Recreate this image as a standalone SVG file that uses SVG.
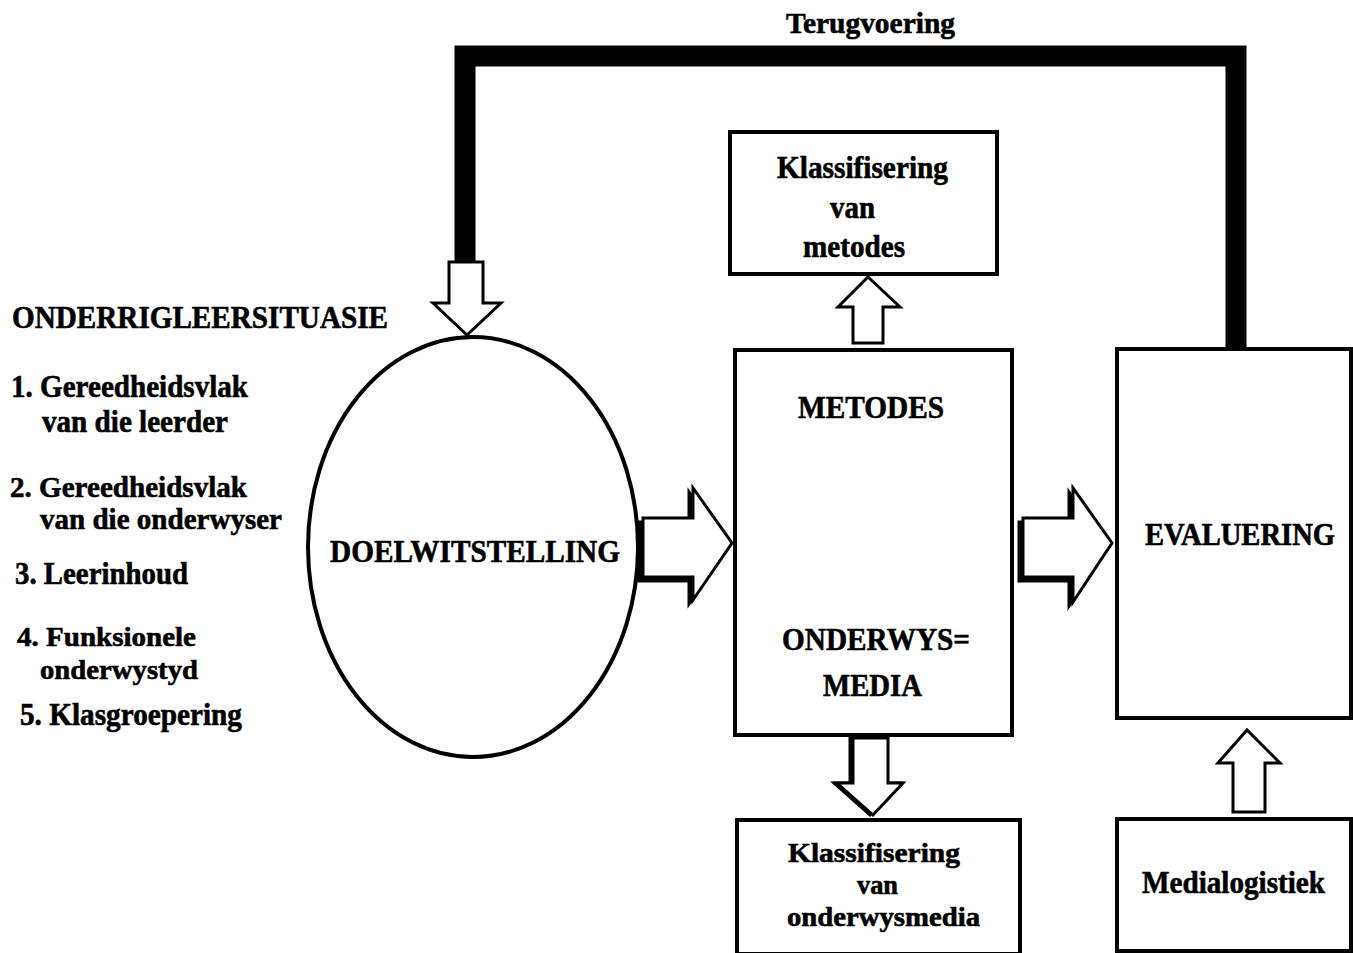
<svg xmlns="http://www.w3.org/2000/svg" width="1353" height="953" viewBox="0 0 1353 953">
<style>
  text { font-family: "Liberation Serif", "Times New Roman", serif; font-weight: bold; fill: #000; stroke: #000; stroke-width: 0.6; }
  .box { fill: #fff; stroke: #000; stroke-width: 4; }
  .arrow { fill: #fff; stroke: #000; stroke-width: 3; stroke-linejoin: miter; }
  .shadow { fill: #000; stroke: #000; stroke-width: 3; }
  .feedback { fill: none; stroke: #000; stroke-width: 21; stroke-linejoin: miter; }
</style>
<rect width="1353" height="953" fill="#fff"/>

<g id="connectors">
  <polyline class="feedback" points="465,262 465,56 1236,56 1236,350"/>
  <text x="786" y="33" font-size="30" textLength="169" lengthAdjust="spacingAndGlyphs">Terugvoering</text>
  <polygon class="arrow" points="449,262 483,262 483,303 501,303 467,335 433,303 449,303"/>
  <polygon class="shadow" points="639,522 689,522 689,492 728,547 689,604 689,581 639,581"/>
  <polygon class="arrow" points="643,518 693,518 693,488 732,543 693,600 693,577 643,577"/>
  <polygon class="shadow" points="1019,522 1069,522 1069,492 1108,547 1069,606 1069,581 1019,581"/>
  <polygon class="arrow" points="1023,518 1073,518 1073,488 1112,543 1073,602 1073,577 1023,577"/>
  <polygon class="arrow" points="853,343 853,307 838,307 868,277 900,307 883,307 883,343"/>
  <polygon class="shadow" points="850,738 885,738 885,783 900,783 870,815 834,783 850,783"/>
  <polygon class="arrow" points="853,738 888,738 888,783 903,783 873,815 837,783 853,783"/>
  <polygon class="arrow" points="1233,812 1233,763 1218,763 1247,730 1280,763 1265,763 1265,812"/>
</g>

<g id="situasie">
  <text x="12" y="328" font-size="32" textLength="376" lengthAdjust="spacingAndGlyphs">ONDERRIGLEERSITUASIE</text>
  <text x="11" y="397" font-size="31" textLength="237" lengthAdjust="spacingAndGlyphs">1. Gereedheidsvlak</text>
  <text x="42" y="432" font-size="31" textLength="186" lengthAdjust="spacingAndGlyphs">van die leerder</text>
  <text x="10" y="497" font-size="30" textLength="237" lengthAdjust="spacingAndGlyphs">2. Gereedheidsvlak</text>
  <text x="40" y="529" font-size="30" textLength="242" lengthAdjust="spacingAndGlyphs">van die onderwyser</text>
  <text x="15" y="584" font-size="31" textLength="173" lengthAdjust="spacingAndGlyphs">3. Leerinhoud</text>
  <text x="17" y="646" font-size="28" textLength="179" lengthAdjust="spacingAndGlyphs">4. Funksionele</text>
  <text x="40" y="679" font-size="28" textLength="158" lengthAdjust="spacingAndGlyphs">onderwystyd</text>
  <text x="20" y="725" font-size="31" textLength="222" lengthAdjust="spacingAndGlyphs">5. Klasgroepering</text>
</g>

<g id="doelwitstelling">
  <ellipse class="box" cx="473" cy="547" rx="165" ry="210"/>
  <text x="330" y="562" font-size="32" textLength="290" lengthAdjust="spacingAndGlyphs">DOELWITSTELLING</text>
</g>

<g id="klassifisering-metodes">
  <rect class="box" x="730" y="132" width="267" height="142"/>
  <text x="777" y="178" font-size="32" textLength="171" lengthAdjust="spacingAndGlyphs">Klassifisering</text>
  <text x="830" y="218" font-size="32" textLength="45" lengthAdjust="spacingAndGlyphs">van</text>
  <text x="803" y="257" font-size="32" textLength="102" lengthAdjust="spacingAndGlyphs">metodes</text>
</g>

<g id="metodes">
  <rect class="box" x="735" y="350" width="277" height="385"/>
  <text x="798" y="418" font-size="32" textLength="146" lengthAdjust="spacingAndGlyphs">METODES</text>
  <text x="782" y="650" font-size="32" textLength="188" lengthAdjust="spacingAndGlyphs">ONDERWYS=</text>
  <text x="823" y="696" font-size="32" textLength="99" lengthAdjust="spacingAndGlyphs">MEDIA</text>
</g>

<g id="klassifisering-media">
  <rect class="box" x="737" y="820" width="283" height="134"/>
  <text x="788" y="862" font-size="27" textLength="172" lengthAdjust="spacingAndGlyphs">Klassifisering</text>
  <text x="857" y="894" font-size="27" textLength="41" lengthAdjust="spacingAndGlyphs">van</text>
  <text x="787" y="926" font-size="27" textLength="193" lengthAdjust="spacingAndGlyphs">onderwysmedia</text>
</g>

<g id="evaluering">
  <rect class="box" x="1117" y="349" width="234" height="369"/>
  <text x="1145" y="545" font-size="31" textLength="190" lengthAdjust="spacingAndGlyphs">EVALUERING</text>
</g>

<g id="medialogistiek">
  <rect class="box" x="1117" y="819" width="234" height="132"/>
  <text x="1142" y="893" font-size="32" textLength="183" lengthAdjust="spacingAndGlyphs">Medialogistiek</text>
</g>
</svg>
